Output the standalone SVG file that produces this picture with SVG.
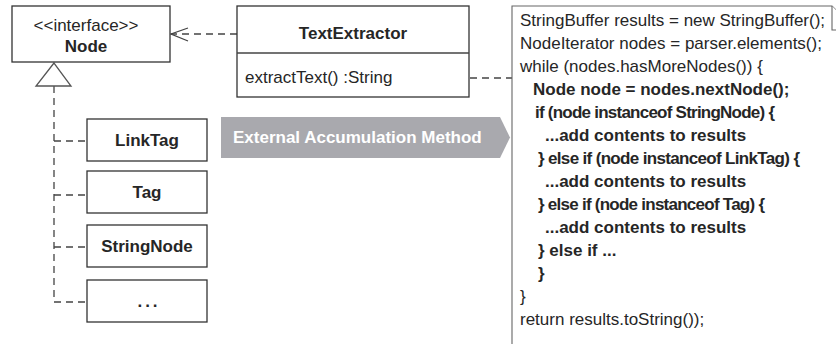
<svg xmlns="http://www.w3.org/2000/svg" width="836" height="344" viewBox="0 0 836 344">
<style>
text{font-family:"Liberation Sans",Arial,sans-serif;font-size:17px;fill:#262626}
.b{font-weight:bold}
.c{text-anchor:middle}
.box{fill:#fff;stroke:#333;stroke-width:1.3}
.dash{fill:none;stroke:#444;stroke-width:1.3;stroke-dasharray:7 5}
.ln{fill:none;stroke:#444;stroke-width:1.3}
.note{fill:#fff;stroke:#666;stroke-width:1.1}
</style>
<rect width="836" height="344" fill="#fff"/>
<g id="connectors">
<line class="dash" x1="237" y1="34" x2="171" y2="34"/>
<polyline class="ln" points="188,28 171,34 188,41"/>
<polyline class="dash" points="54,86 54,302 87,302"/>
<line class="dash" x1="54" y1="141" x2="87" y2="141"/>
<line class="dash" x1="54" y1="195" x2="87" y2="195"/>
<line class="dash" x1="54" y1="247" x2="87" y2="247"/>
<line class="dash" x1="398" y1="78" x2="512" y2="78"/>
<polygon points="54,63 36,86 71,86" fill="#fff" stroke="#555" stroke-width="1.3"/>
</g>
<g id="node-Node">
<rect class="box" x="12" y="6" width="158" height="56"/>
<text class="c" x="86" y="31">&lt;&lt;interface&gt;&gt;</text>
<text class="b c" x="86" y="52">Node</text>
</g>
<g id="node-TextExtractor">
<rect class="box" x="237" y="6" width="232" height="91"/>
<line class="ln" x1="237" y1="53" x2="469" y2="53"/>
<text class="b c" x="353" y="39">TextExtractor</text>
<text x="245" y="83">extractText() :String</text>
</g>
<g id="node-LinkTag">
<rect class="box" x="87" y="119" width="120" height="42"/>
<text class="b c" x="147" y="146">LinkTag</text>
</g>
<g id="node-Tag">
<rect class="box" x="87" y="171" width="120" height="42"/>
<text class="b c" x="147" y="198">Tag</text>
</g>
<g id="node-StringNode">
<rect class="box" x="87" y="225" width="120" height="42"/>
<text class="b c" x="147" y="252">StringNode</text>
</g>
<g id="node-more">
<rect class="box" x="87" y="280" width="120" height="42"/>
<text class="b c" x="149" y="307" style="letter-spacing:3px">...</text>
</g>
<g id="banner">
<polygon points="221,117 500,117 510,137.5 500,158 221,158" fill="#a9a9ae"/>
<text class="b" x="233" y="143" style="fill:#fff">External Accumulation Method</text>
</g>
<g id="node-code">
<path class="note" d="M512,360 L512,6 L832,6 L856,30 L856,360"/>
<polyline class="note" points="832,6 832,30 856,30"/>
<text x="520" y="26">StringBuffer results = new StringBuffer();</text>
<text x="520" y="49">NodeIterator nodes = parser.elements();</text>
<text x="520" y="72">while (nodes.hasMoreNodes()) {</text>
<text class="b" x="533" y="95">Node node = nodes.nextNode();</text>
<text class="b" x="535" y="118" textLength="240" lengthAdjust="spacing">if (node instanceof StringNode) {</text>
<text class="b" x="545" y="141">...add contents to results</text>
<text class="b" x="538" y="164" textLength="262" lengthAdjust="spacing">} else if (node instanceof LinkTag) {</text>
<text class="b" x="545" y="187">...add contents to results</text>
<text class="b" x="538" y="210" textLength="227" lengthAdjust="spacing">} else if (node instanceof Tag) {</text>
<text class="b" x="545" y="233">...add contents to results</text>
<text class="b" x="538" y="256">} else if ...</text>
<text class="b" x="538" y="279">}</text>
<text x="520" y="302">}</text>
<text x="520" y="325">return results.toString());</text>
</g>
</svg>
